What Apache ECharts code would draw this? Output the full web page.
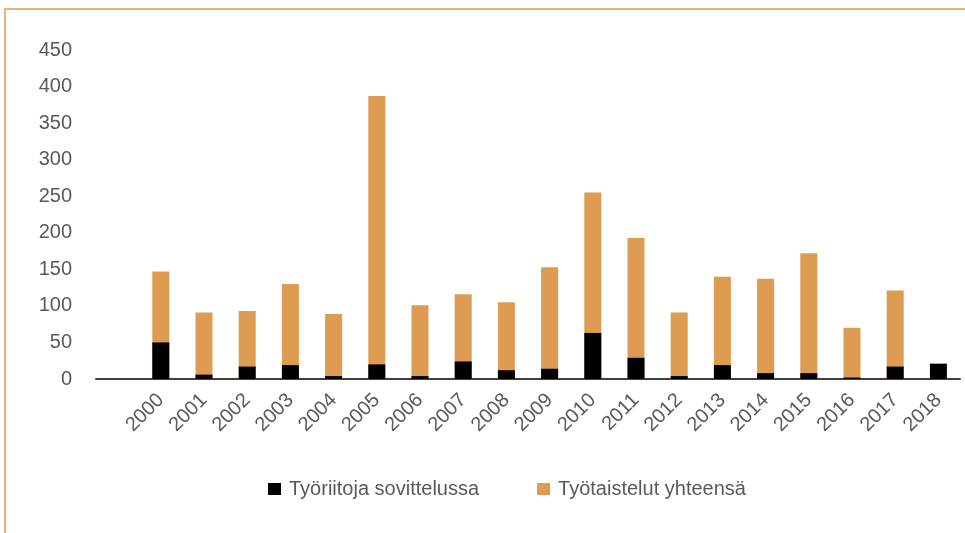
<!DOCTYPE html>
<html>
<head>
<meta charset="utf-8">
<script src="https://cdn.jsdelivr.net/npm/echarts@6/dist/echarts.min.js"></script>
<style>
  html, body { margin: 0; padding: 0; background: #fff; }
  #frame { position: absolute; left: 4px; top: 8px; width: 980px; height: 560px;
           border-top: 2px solid #EBB276; border-left: 2px solid #EBB276; box-sizing: border-box; }
  #chart { position: absolute; left: 0; top: 0; width: 965px; height: 533px; }
</style>
</head>
<body>
<div id="frame"></div>
<div id="chart"></div>
<script>
// vuodet (ensimmäinen luokka on tyhjä kuten alkuperäisessä)
const years = ['', '2000', '2001', '2002', '2003', '2004', '2005', '2006', '2007', '2008', '2009',
  '2010', '2011', '2012', '2013', '2014', '2015', '2016', '2017', '2018']
// Työriitoja sovittelussa
const mediation = [null, 50, 6, 17, 19, 4, 20, 4, 24, 12, 14, 63, 29, 4, 19, 8, 8, 2, 17, 21]
// Työtaistelut yhteensä
const strikes = [null, 147, 91, 93, 130, 89, 387, 101, 116, 105, 153, 255, 193, 91, 140, 137, 172, 70, 121, null]
const yTicks = [0, 50, 100, 150, 200, 250, 300, 350, 400, 450]

const chart = echarts.init(document.getElementById('chart'))
const font = 'Liberation Sans, Arial, sans-serif'

chart.setOption({
  animation: false,
  textStyle: { fontFamily: font },
  grid: { left: 96, right: 5, top: 50, bottom: 154 },
  legend: {
    data: ['Työriitoja sovittelussa', 'Työtaistelut yhteensä'],
    top: 474,
    left: 263,
    itemWidth: 13,
    itemHeight: 12,
    itemGap: 58,
    icon: 'rect',
    textStyle: { fontSize: 20, color: '#595959', fontFamily: font, padding: [0, 0, 0, 3] }
  },
  xAxis: {
    type: 'category',
    data: years,
    axisLine: { lineStyle: { color: '#404040', width: 2 } },
    axisTick: { show: false },
    axisLabel: {
      interval: 0,
      rotate: 45,
      margin: 18,
      fontSize: 20,
      color: '#595959',
      fontFamily: font
    }
  },
  yAxis: {
    type: 'value',
    min: yTicks[0],
    max: yTicks[yTicks.length - 1],
    interval: 50,
    splitLine: { show: false },
    axisLine: { show: false },
    axisTick: { show: false },
    axisLabel: { fontSize: 20, color: '#595959', margin: 24, fontFamily: font }
  },
  series: [
    {
      name: 'Työtaistelut yhteensä',
      type: 'bar',
      data: strikes,
      barWidth: 17,
      z: 2,
      itemStyle: { color: '#DE9B52' }
    },
    {
      name: 'Työriitoja sovittelussa',
      type: 'bar',
      data: mediation,
      barWidth: 17,
      barGap: '-100%',
      z: 3,
      itemStyle: { color: '#000000' }
    }
  ]
})
</script>
</body>
</html>
